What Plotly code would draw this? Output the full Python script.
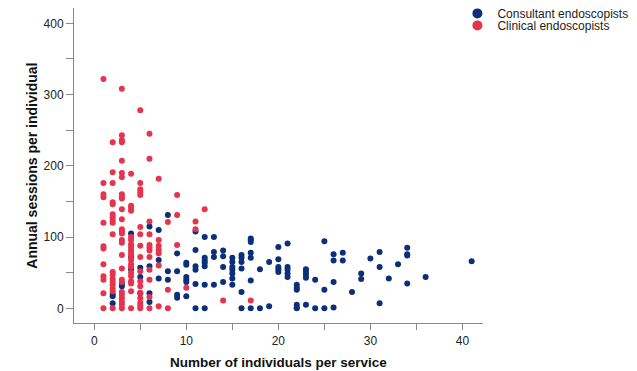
import plotly.graph_objects as go

# ---- data ----
# Consultant endoscopists: individuals per service -> annual sessions
consultant_groups = {
    2: [20, 17, 7],
    3: [35, 31],
    4: [105, 72, 55],
    5: [57, 44, 21],
    6: [115, 59, 21, 9],
    7: [110, 68, 42],
    8: [131, 52, 40],
    9: [77, 52, 19, 15],
    10: [64, 61, 44, 40, 37, 17],
    11: [108, 82, 59, 54, 34, 0],
    12: [100, 71, 67, 64, 59, 33, 0],
    13: [100, 79, 72, 33],
    14: [81, 73, 58, 37],
    15: [71, 65, 58, 54, 49, 42, 33],
    16: [75, 71, 65, 56, 23, 0],
    17: [98, 96, 93, 78, 71, 39, 0],
    18: [55, 0],
    19: [65, 3],
    20: [86, 69, 58, 55, 51],
    21: [91, 58, 54, 49, 44],
    22: [33, 29, 26, 5, 1, 0],
    23: [55, 51, 47, 43, 5],
    24: [40, 0],
    25: [94, 26, 0],
    26: [76, 67, 37, 1],
    27: [78, 67],
    28: [23],
    29: [49, 41],
    30: [70],
    31: [79, 58, 7],
    32: [42],
    33: [62],
    34: [85, 76, 74, 35],
    36: [44],
    41: [66],
}

# Clinical endoscopists
clinical_groups = {
    1: [322, 176, 160, 156, 120, 87, 84, 62, 45, 40, 21, 0],
    2: [233, 191, 176, 149, 146, 132, 128, 124, 120, 104, 51, 47, 41, 37, 33, 28, 24, 0],
    3: [308, 243, 236, 233, 207, 190, 184, 160, 156, 154, 139, 125, 111, 108, 105, 96, 92,
        75, 56, 40, 37, 23, 19, 14, 9, 5, 0],
    4: [189, 144, 141, 137, 100, 96, 90, 86, 82, 78, 74, 68, 62, 58, 50, 45, 38, 35, 24, 0],
    5: [278, 176, 167, 163, 159, 114, 104, 88, 72, 52, 38, 31, 22, 14, 8, 4, 0],
    6: [245, 210, 122, 104, 89, 85, 81, 72, 54, 40, 16, 0],
    7: [182, 96, 88, 82, 77, 60, 3],
    8: [121, 26, 0],
    9: [159, 131, 89],
    10: [29],
    11: [122, 111],
    12: [139],
    14: [11],
    17: [11],
}

consultant_x = [k for k, v in consultant_groups.items() for _ in v]
consultant_y = [y for v in consultant_groups.values() for y in v]
clinical_x = [k for k, v in clinical_groups.items() for _ in v]
clinical_y = [y for v in clinical_groups.values() for y in v]

series_names = ["Consultant endoscopists", "Clinical endoscopists"]
x_ticks = [0, 5, 10, 15, 20, 25, 30, 35, 40]
x_ticklabels = ["0", "", "10", "", "20", "", "30", "", "40"]
y_ticks = [0, 50, 100, 150, 200, 250, 300, 350, 400]
y_ticklabels = ["0", "", "100", "", "200", "", "300", "", "400"]

BLUE = "#0b3079"
RED = "#e6334e"
FONT = "Liberation Sans, Arial, sans-serif"

fig = go.Figure()
fig.add_trace(go.Scatter(x=consultant_x, y=consultant_y, mode="markers",
                         marker=dict(size=6, color=BLUE), showlegend=False,
                         name=series_names[0]))
fig.add_trace(go.Scatter(x=clinical_x, y=clinical_y, mode="markers",
                         marker=dict(size=6, color=RED), showlegend=False,
                         name=series_names[1]))
# legend entries
fig.add_trace(go.Scatter(x=[None], y=[None], mode="markers", name=series_names[0],
                         marker=dict(size=10, color=BLUE), legend="legend"))
fig.add_trace(go.Scatter(x=[None], y=[None], mode="markers", name=series_names[1],
                         marker=dict(size=10, color=RED), legend="legend2"))

axis_common = dict(showgrid=False, zeroline=False, showline=True, linecolor="#8a8a8a",
                   linewidth=1, ticks="outside", tickcolor="#8a8a8a", automargin=False,
                   tickfont=dict(family=FONT, size=12, color="#222222"))

fig.update_layout(
    width=637, height=371,
    margin=dict(l=0, r=0, t=0, b=0, autoexpand=False),
    paper_bgcolor="white", plot_bgcolor="white",
    font=dict(family=FONT, color="#222222"),
    xaxis=dict(domain=[66 / 637, 474.7 / 637], range=[-2.2, 42.2],
               tickvals=x_ticks, ticktext=x_ticklabels, ticklen=6,
               title=dict(text="Number of individuals per service", standoff=10,
                          font=dict(family=FONT, size=13.5, weight="bold", color="#111111")),
               **axis_common),
    yaxis=dict(domain=[55.7 / 371, 1.0], range=[-21, 421.5],
               tickvals=y_ticks, ticktext=y_ticklabels, ticklen=7,
               title=dict(text="Annual sessions per individual", standoff=2,
                          font=dict(family=FONT, size=14, weight="bold", color="#111111")),
               **axis_common),
    legend=dict(x=0.7055, y=1.0245, xanchor="left", yanchor="top", bgcolor="rgba(0,0,0,0)",
                font=dict(family=FONT, size=12, color="#222222"), itemsizing="trace"),
    legend2=dict(x=0.7055, y=0.9922, xanchor="left", yanchor="top", bgcolor="rgba(0,0,0,0)",
                 font=dict(family=FONT, size=12, color="#222222"), itemsizing="trace"),
)

fig.write_html("out.html")
